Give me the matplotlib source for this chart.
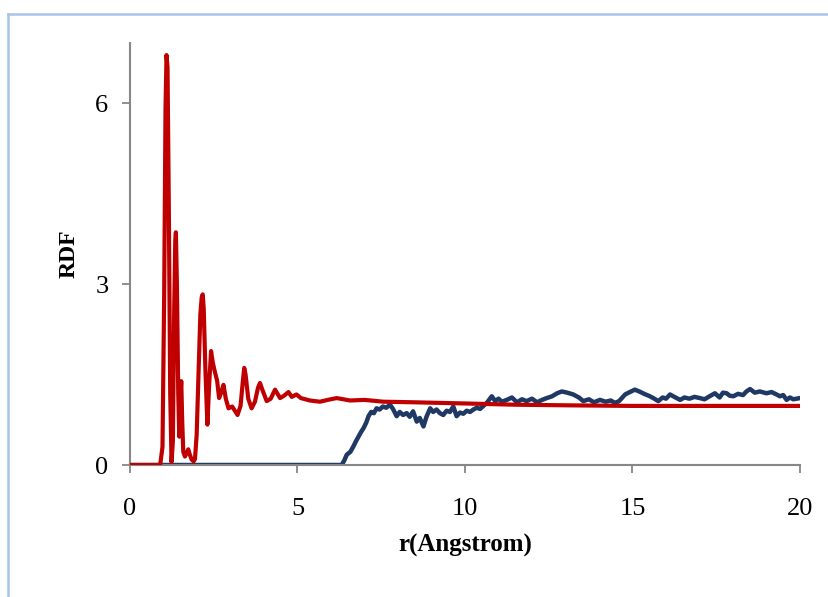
import matplotlib
matplotlib.use("Agg")
import matplotlib.pyplot as plt
from matplotlib.lines import Line2D

# red curve
r_red = [0.0, 0.90, 0.97, 1.02, 1.06, 1.09, 1.12, 1.16, 1.20, 1.24, 1.28, 1.32, 1.35,
         1.37, 1.40, 1.44, 1.47, 1.50, 1.53, 1.56, 1.59, 1.64, 1.69, 1.74, 1.78, 1.84,
         1.90, 1.94, 1.99, 2.05, 2.10, 2.14, 2.17, 2.20, 2.25, 2.31, 2.36, 2.42, 2.47,
         2.54, 2.60, 2.66, 2.72, 2.79, 2.86, 2.94, 3.05, 3.13, 3.21, 3.30, 3.37, 3.41,
         3.45, 3.53, 3.63, 3.73, 3.82, 3.88, 3.95, 4.08, 4.20, 4.33, 4.48, 4.60, 4.73,
         4.83, 4.97, 5.10, 5.37, 5.67, 5.90, 6.17, 6.57, 7.00, 7.56, 8.50, 10.05, 11.50,
         13.03, 15.00, 17.00, 20.0]
g_red = [0.0, 0.0, 0.30, 2.80, 5.90, 6.80, 6.60, 4.20, 1.20, 0.05, 0.40, 2.60, 3.70,
         3.86, 3.00, 1.20, 0.47, 1.10, 1.39, 0.70, 0.22, 0.14, 0.20, 0.26, 0.18, 0.09,
         0.06, 0.10, 0.50, 1.60, 2.50, 2.78, 2.83, 2.60, 1.60, 0.67, 1.30, 1.89, 1.70,
         1.53, 1.40, 1.11, 1.20, 1.33, 1.10, 0.94, 0.97, 0.90, 0.83, 0.98, 1.40, 1.61,
         1.50, 1.10, 0.94, 1.05, 1.28, 1.36, 1.25, 1.06, 1.10, 1.25, 1.11, 1.15, 1.21,
         1.13, 1.17, 1.11, 1.07, 1.05, 1.08, 1.11, 1.07, 1.08, 1.05, 1.04, 1.02, 1.00,
         0.99, 0.98, 0.98, 0.98]

# blue curve
r_blue = [0.0, 6.10, 6.32, 6.40, 6.47, 6.58, 6.67, 6.75, 6.82, 6.90,
          6.97, 7.05, 7.12, 7.20, 7.28, 7.36, 7.45, 7.55, 7.65, 7.76,
          7.85, 7.96, 8.05, 8.15, 8.26, 8.35, 8.45, 8.56, 8.65, 8.76,
          8.85, 8.96, 9.05, 9.15, 9.25, 9.35, 9.45, 9.55, 9.65, 9.75,
          9.85, 9.95, 10.05, 10.15, 10.25, 10.35, 10.45, 10.55, 10.65, 10.80,
          10.90, 11.00, 11.10, 11.25, 11.40, 11.55, 11.70, 11.84, 12.00, 12.15,
          12.30, 12.44, 12.60, 12.75, 12.89, 13.05, 13.23, 13.40, 13.53, 13.70,
          13.85, 14.03, 14.20, 14.35, 14.48, 14.60, 14.78, 14.92, 15.07, 15.20,
          15.35, 15.52, 15.65, 15.77, 15.90, 16.00, 16.12, 16.25, 16.42, 16.55,
          16.70, 16.85, 17.01, 17.15, 17.30, 17.46, 17.60, 17.70, 17.81, 17.90,
          18.01, 18.15, 18.30, 18.40, 18.51, 18.65, 18.80, 19.00, 19.15, 19.30,
          19.40, 19.50, 19.60, 19.70, 19.80, 20.0]
g_blue = [0.0, 0.0, 0.0, 0.08, 0.17, 0.22, 0.31, 0.40, 0.47, 0.55,
          0.61, 0.70, 0.81, 0.88, 0.86, 0.94, 0.92, 0.97, 0.95, 1.00,
          0.93, 0.81, 0.88, 0.83, 0.86, 0.80, 0.89, 0.72, 0.78, 0.64,
          0.80, 0.94, 0.88, 0.92, 0.86, 0.83, 0.90, 0.88, 0.97, 0.81,
          0.87, 0.85, 0.90, 0.88, 0.92, 0.95, 0.93, 0.98, 1.03, 1.14,
          1.06, 1.10, 1.05, 1.08, 1.12, 1.04, 1.09, 1.06, 1.10, 1.04,
          1.08, 1.11, 1.14, 1.19, 1.22, 1.20, 1.17, 1.12, 1.06, 1.09,
          1.04, 1.08, 1.05, 1.07, 1.03, 1.06, 1.17, 1.21, 1.25, 1.22,
          1.18, 1.14, 1.10, 1.06, 1.12, 1.10, 1.17, 1.13, 1.08, 1.12,
          1.10, 1.13, 1.11, 1.09, 1.14, 1.19, 1.12, 1.20, 1.19, 1.15,
          1.14, 1.18, 1.16, 1.22, 1.26, 1.20, 1.22, 1.19, 1.21, 1.17,
          1.14, 1.16, 1.08, 1.12, 1.09, 1.11]

x_ticks = [0, 5, 10, 15, 20]
y_ticks = [0, 3, 6]

plt.rcParams["font.family"] = ["Liberation Serif", "DejaVu Serif"]

fig = plt.figure(figsize=(8.29, 5.97), dpi=100)
ax = fig.add_axes([130 / 829, 1 - 465 / 597, 670 / 829, 422 / 597])

ax.plot(r_blue, g_blue, color="#1f3864", lw=3.2, solid_joinstyle="round", zorder=2)
ax.plot(r_red, g_red, color="#c00000", lw=3.0, solid_joinstyle="round", zorder=3)

ax.set_xlim(0, 20)
ax.set_ylim(0, 7)
ax.set_xticks(x_ticks)
ax.set_yticks(y_ticks)
ax.tick_params(axis="both", direction="out", length=5.5, width=1.3, color="#878787",
               labelsize=19, pad=10)
ax.tick_params(axis="x", pad=18)
for side in ["top", "right"]:
    ax.spines[side].set_visible(False)
for side in ["left", "bottom"]:
    ax.spines[side].set_color("#878787")
    ax.spines[side].set_linewidth(1.5)

ax.set_xlabel("r(Angstrom)", fontsize=18, fontweight="bold", labelpad=10)
ax.set_ylabel("RDF", fontsize=17, fontweight="bold", labelpad=11)

# light blue frame of the chart area (only top and left edges show)
border = "#a9c4ec"
fig.add_artist(Line2D([8 / 829, 1.0], [1 - 14 / 597, 1 - 14 / 597], color=border, lw=1.8,
                      transform=fig.transFigure))
fig.add_artist(Line2D([8 / 829, 8 / 829], [0.0, 1 - 14 / 597], color=border, lw=1.8,
                      transform=fig.transFigure))

fig.savefig("out.png", dpi=100)
